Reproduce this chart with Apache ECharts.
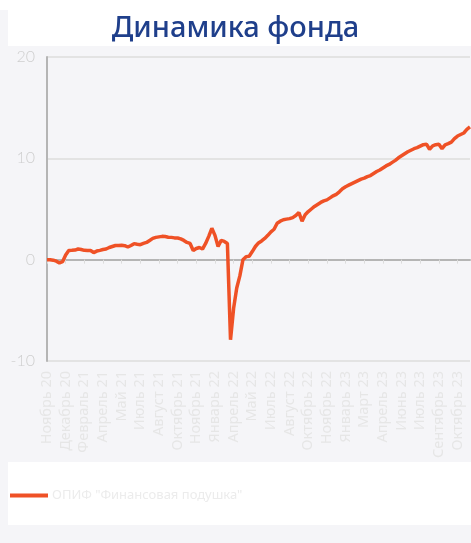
<!DOCTYPE html>
<html>
<head>
<meta charset="utf-8">
<script src="https://cdn.jsdelivr.net/npm/echarts@6/dist/echarts.min.js"></script>
<style>
html,body{margin:0;padding:0;background:#f5f5f8;}
#chart{width:471px;height:543px;}
</style>
</head>
<body>
<div id="chart"></div>
<script>
// Tick labels shown on the x axis (one every 6 points)
const tickLabels = ["Ноябрь 20","Декабрь 20","Февраль 21","Апрель 21","Май 21","Июль 21","Август 21","Октябрь 21","Ноябрь 21","Январь 22","Апрель 22","Май 22","Июль 22","Август 22","Октябрь 22","Ноябрь 22","Январь 23","Март 23","Апрель 23","Июнь 23","Июль 23","Сентябрь 23","Октябрь 23"];
const pointsPerLabel = 6;
const seriesName = 'ОПИФ "Финансовая подушка"';
// Fund return, %
const values = [
  0.0, 0.0, -0.05, -0.15, -0.33, -0.2, 0.45, 0.9, 0.92, 0.95,
  1.05, 1.0, 0.92, 0.9, 0.9, 0.7, 0.85, 0.92, 1.0, 1.05,
  1.2, 1.3, 1.4, 1.4, 1.42, 1.38, 1.25, 1.4, 1.58, 1.52,
  1.48, 1.6, 1.7, 1.9, 2.1, 2.2, 2.25, 2.3, 2.28, 2.22,
  2.2, 2.15, 2.14, 2.05, 1.9, 1.7, 1.6, 0.9, 1.1, 1.2,
  1.05, 1.6, 2.3, 3.1, 2.4, 1.3, 1.9, 1.8, 1.6, -7.9,
  -4.8, -2.8, -1.6, 0.0, 0.3, 0.33, 0.8, 1.3, 1.65, 1.85,
  2.1, 2.4, 2.75, 3.0, 3.6, 3.8, 3.94, 4.0, 4.05, 4.15,
  4.35, 4.65, 3.8, 4.43, 4.75, 5.0, 5.25, 5.45, 5.65, 5.8,
  5.9, 6.1, 6.3, 6.45, 6.7, 7.0, 7.2, 7.35, 7.5, 7.65,
  7.8, 7.95, 8.05, 8.2, 8.3, 8.5, 8.7, 8.85, 9.05, 9.25,
  9.4, 9.6, 9.8, 10.05, 10.25, 10.45, 10.65, 10.8, 10.95, 11.05,
  11.2, 11.35, 11.4, 10.9, 11.23, 11.35, 11.4, 10.95, 11.33, 11.45,
  11.6, 11.95, 12.2, 12.35, 12.5, 12.85, 13.1
];
const categories = values.map((v, i) => tickLabels[Math.floor(i / pointsPerLabel)] + '#' + i);

const chart = echarts.init(document.getElementById('chart'));
chart.setOption({
  backgroundColor: '#f5f5f8',
  animation: false,
  graphic: [
    {type:'rect', z:-10, shape:{x:0, y:0, width:471, height:10}, style:{fill:'#ffffff'}},
    {type:'rect', z:-10, shape:{x:8, y:10, width:463, height:36}, style:{fill:'#ffffff'}},
    {type:'rect', z:-10, shape:{x:8, y:462, width:463, height:63}, style:{fill:'#ffffff'}}
  ],
  title: {
    text: 'Динамика фонда',
    left: 'center',
    top: 9,
    textStyle: {fontFamily:'Noto Sans', fontWeight:500, fontSize:29, color:'#1f3f8b'}
  },
  legend: {
    data: [seriesName],
    left: 5,
    top: 484,
    itemWidth: 38,
    itemHeight: 4,
    itemGap: 4,
    icon: 'rect',
    textStyle: {fontFamily:'Noto Sans', fontSize:13, color:'#ececec', padding:[0,0,0,-1]}
  },
  grid: {left:47, right:1, top:57, bottom:182, containLabel:false},
  xAxis: {
    type: 'category',
    data: categories,
    boundaryGap: false,
    axisLine: {lineStyle:{color:'#b5b5b5', width:2}},
    axisTick: {show:true, interval:5, length:4, lineStyle:{color:'#dcdcdc'}},
    axisLabel: {
      interval: 5,
      rotate: 90,
      margin: 10,
      fontFamily: 'Noto Sans',
      fontSize: 14.5,
      color: '#e6e6e6',
      formatter: v => v.split('#')[0]
    },
    splitLine: {show:false}
  },
  yAxis: {
    type: 'value',
    min: -10,
    max: 20,
    interval: 10,
    axisLine: {show:true, lineStyle:{color:'#b5b5b5', width:2}},
    axisTick: {show:false},
    axisLabel: {fontFamily:'Lato', fontWeight:300, fontSize:16, color:'#cfcfcf', margin:12},
    splitLine: {lineStyle:{color:'#dddddd', width:1.5}}
  },
  series: [{
    name: seriesName,
    type: 'line',
    data: values,
    showSymbol: false,
    symbol: 'none',
    lineStyle: {color:'#ef5126', width:3.5},
    itemStyle: {color:'#ef5126'}
  }]
});
</script>
</body>
</html>
